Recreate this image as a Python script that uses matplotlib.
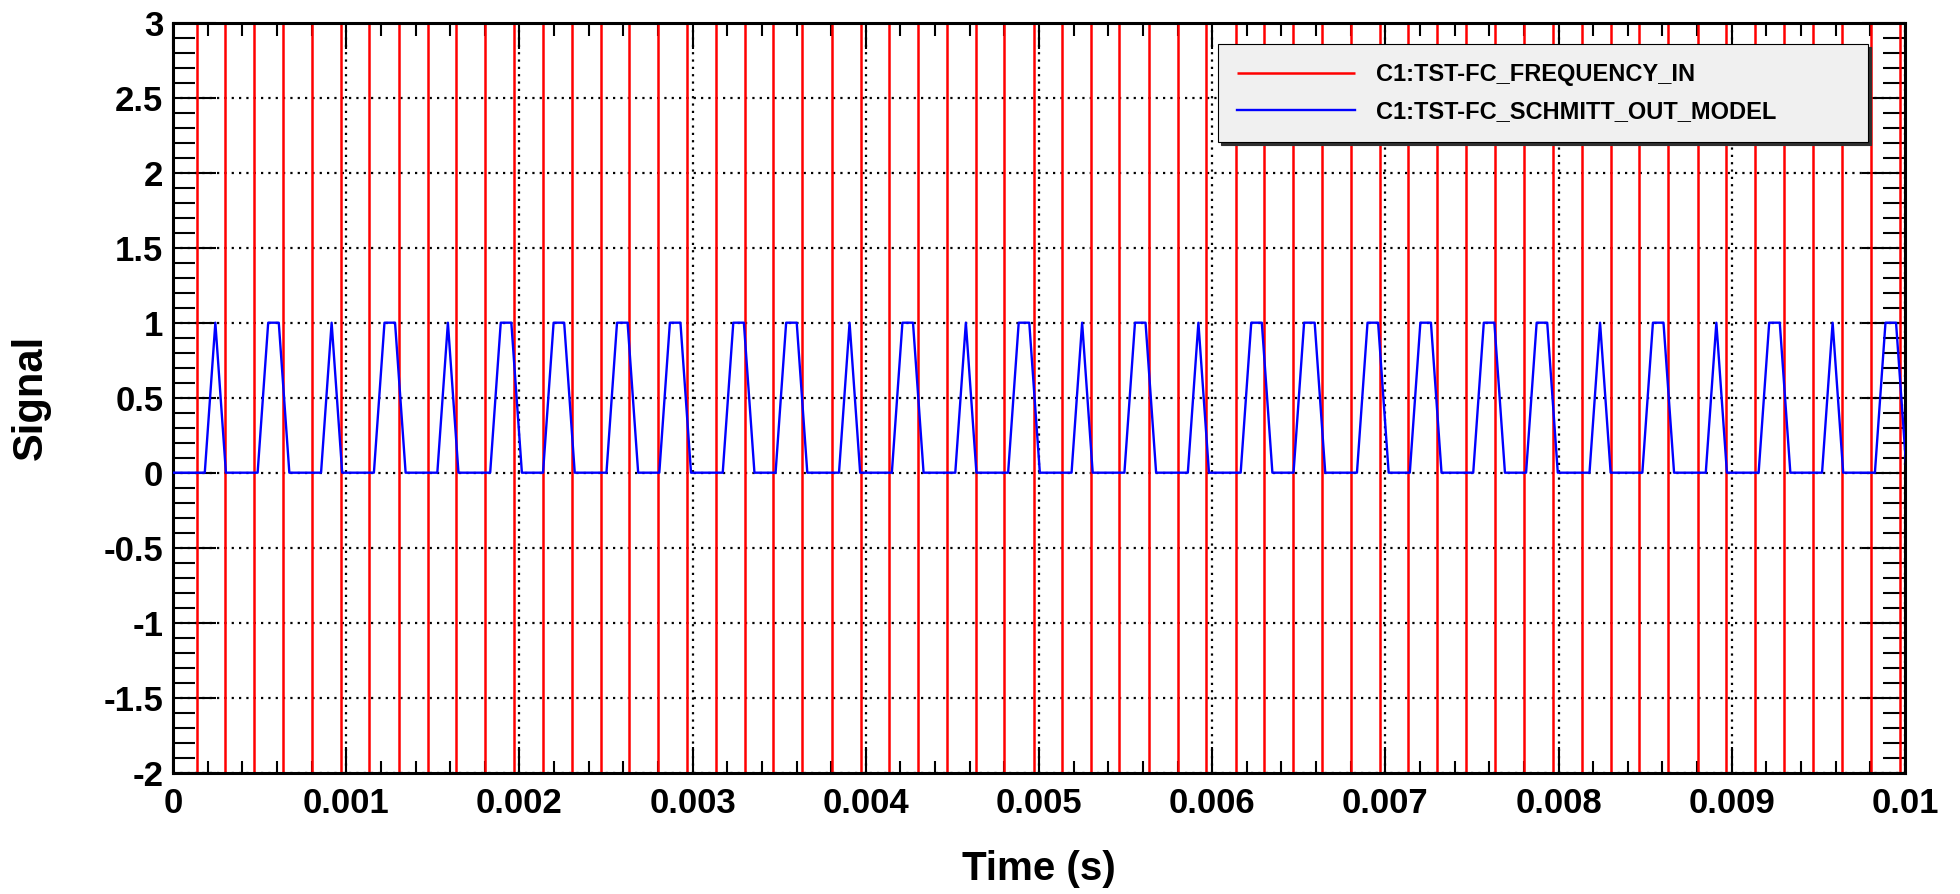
import numpy as np
import matplotlib
matplotlib.use('Agg')
import matplotlib.pyplot as plt
from matplotlib.ticker import MultipleLocator

plt.rcParams['font.family'] = ['Liberation Sans', 'DejaVu Sans']
plt.rcParams['font.weight'] = 'bold'

# C1:TST-FC_FREQUENCY_IN -- off-scale signal, only the crossings show up (s)
freq_in_crossings = [
    0.000137, 0.000300, 0.000469, 0.000633, 0.000801, 0.000968, 0.001133, 0.001305, 0.001471, 0.001632,
    0.001801, 0.001971, 0.002135, 0.002302, 0.002469, 0.002635, 0.002802, 0.002969, 0.003135, 0.003303,
    0.003466, 0.003633, 0.003803, 0.003971, 0.004134, 0.004303, 0.004469, 0.004635, 0.004800, 0.004969,
    0.005135, 0.005300, 0.005464, 0.005635, 0.005801, 0.005966, 0.006136, 0.006301, 0.006468, 0.006632,
    0.006801, 0.006969, 0.007132, 0.007300, 0.007465, 0.007633, 0.007800, 0.007969, 0.008133, 0.008301,
    0.008464, 0.008633, 0.008803, 0.008967, 0.009134, 0.009300, 0.009471, 0.009635, 0.009802, 0.009971,
]

# C1:TST-FC_SCHMITT_OUT_MODEL, sampled at 16384 Hz
sample_rate = 16384
schmitt_out = [
    0, 0, 0, 0, 1, 0, 0, 0, 0, 1,
    1, 0, 0, 0, 0, 1, 0, 0, 0, 0,
    1, 1, 0, 0, 0, 0, 1, 0, 0, 0,
    0, 1, 1, 0, 0, 0, 1, 1, 0, 0,
    0, 0, 1, 1, 0, 0, 0, 1, 1, 0,
    0, 0, 0, 1, 1, 0, 0, 0, 1, 1,
    0, 0, 0, 0, 1, 0, 0, 0, 0, 1,
    1, 0, 0, 0, 0, 1, 0, 0, 0, 0,
    1, 1, 0, 0, 0, 0, 1, 0, 0, 0,
    0, 1, 1, 0, 0, 0, 0, 1, 0, 0,
    0, 0, 1, 1, 0, 0, 0, 1, 1, 0,
    0, 0, 0, 1, 1, 0, 0, 0, 1, 1,
    0, 0, 0, 0, 1, 1, 0, 0, 0, 1,
    1, 0, 0, 0, 0, 1, 0, 0, 0, 0,
    1, 1, 0, 0, 0, 0, 1, 0, 0, 0,
    0, 1, 1, 0, 0, 0, 0, 1, 0, 0,
    0, 0, 1, 1, 0,
]
schmitt_t = np.arange(len(schmitt_out)) / sample_rate

x_ticks = [0, 0.001, 0.002, 0.003, 0.004, 0.005, 0.006, 0.007, 0.008, 0.009, 0.01]
x_labels = ['0', '0.001', '0.002', '0.003', '0.004', '0.005', '0.006', '0.007', '0.008', '0.009', '0.01']
y_ticks = [-2, -1.5, -1, -0.5, 0, 0.5, 1, 1.5, 2, 2.5, 3]
y_labels = ['-2', '-1.5', '-1', '-0.5', '0', '0.5', '1', '1.5', '2', '2.5', '3']

fig = plt.figure(figsize=(19.6, 8.94), dpi=100)
ax = fig.add_axes([0.0883, 0.1357, 0.8836, 0.8389])

ymin, ymax = -2, 3
ax.vlines(freq_in_crossings, ymin, ymax, color='#ff0000', lw=1.8,
          label='C1:TST-FC_FREQUENCY_IN', zorder=2)
ax.plot(schmitt_t, schmitt_out, color='#0000ff', lw=1.7,
        label='C1:TST-FC_SCHMITT_OUT_MODEL', zorder=3)

ax.set_xlim(0, 0.01)
ax.set_ylim(ymin, ymax)

ax.set_xticks(x_ticks)
ax.set_xticklabels(x_labels)
ax.set_yticks(y_ticks)
ax.set_yticklabels(y_labels)
ax.xaxis.set_minor_locator(MultipleLocator(0.0002))
ax.yaxis.set_minor_locator(MultipleLocator(0.1))

ax.tick_params(axis='both', which='both', direction='in', top=True, right=True,
               width=1.5, color='black')
ax.tick_params(axis='x', which='major', length=19, labelsize=25, pad=10)
ax.tick_params(axis='x', which='minor', length=9)
ax.tick_params(axis='y', which='major', length=31, labelsize=25, pad=7)
ax.tick_params(axis='y', which='minor', length=16)
for lab in ax.get_xticklabels() + ax.get_yticklabels():
    lab.set_fontweight('bold')

for sp in ax.spines.values():
    sp.set_linewidth(2.2)

ax.set_axisbelow(True)
ax.grid(True, which='major', color='black', lw=1.6, linestyle=(0, (1, 2.3)))

ax.set_xlabel('Time (s)', fontsize=29, fontweight='bold')
ax.xaxis.set_label_coords(0.5, -0.128)
ax.xaxis.label.set_verticalalignment('center')
ax.set_ylabel('Signal', fontsize=30, fontweight='bold')
ax.yaxis.set_label_coords(-0.082, 0.5)
ax.yaxis.label.set_verticalalignment('center')

leg = ax.legend(loc='upper left', bbox_to_anchor=(0.6215, 0.9508, 0.3315, 0.0),
                bbox_transform=fig.transFigure, mode='expand', borderaxespad=0,
                fontsize=17, handlelength=5, handletextpad=0.9, borderpad=0.8,
                labelspacing=0.6, fancybox=False, shadow={'color': '#303030', 'alpha': 1},
                framealpha=1)
leg.get_frame().set_facecolor('#f0f0f0')
leg.get_frame().set_edgecolor('black')
leg.get_frame().set_linewidth(0.8)
for t in leg.get_texts():
    t.set_fontweight('bold')

fig.savefig('out.png', dpi=100)
